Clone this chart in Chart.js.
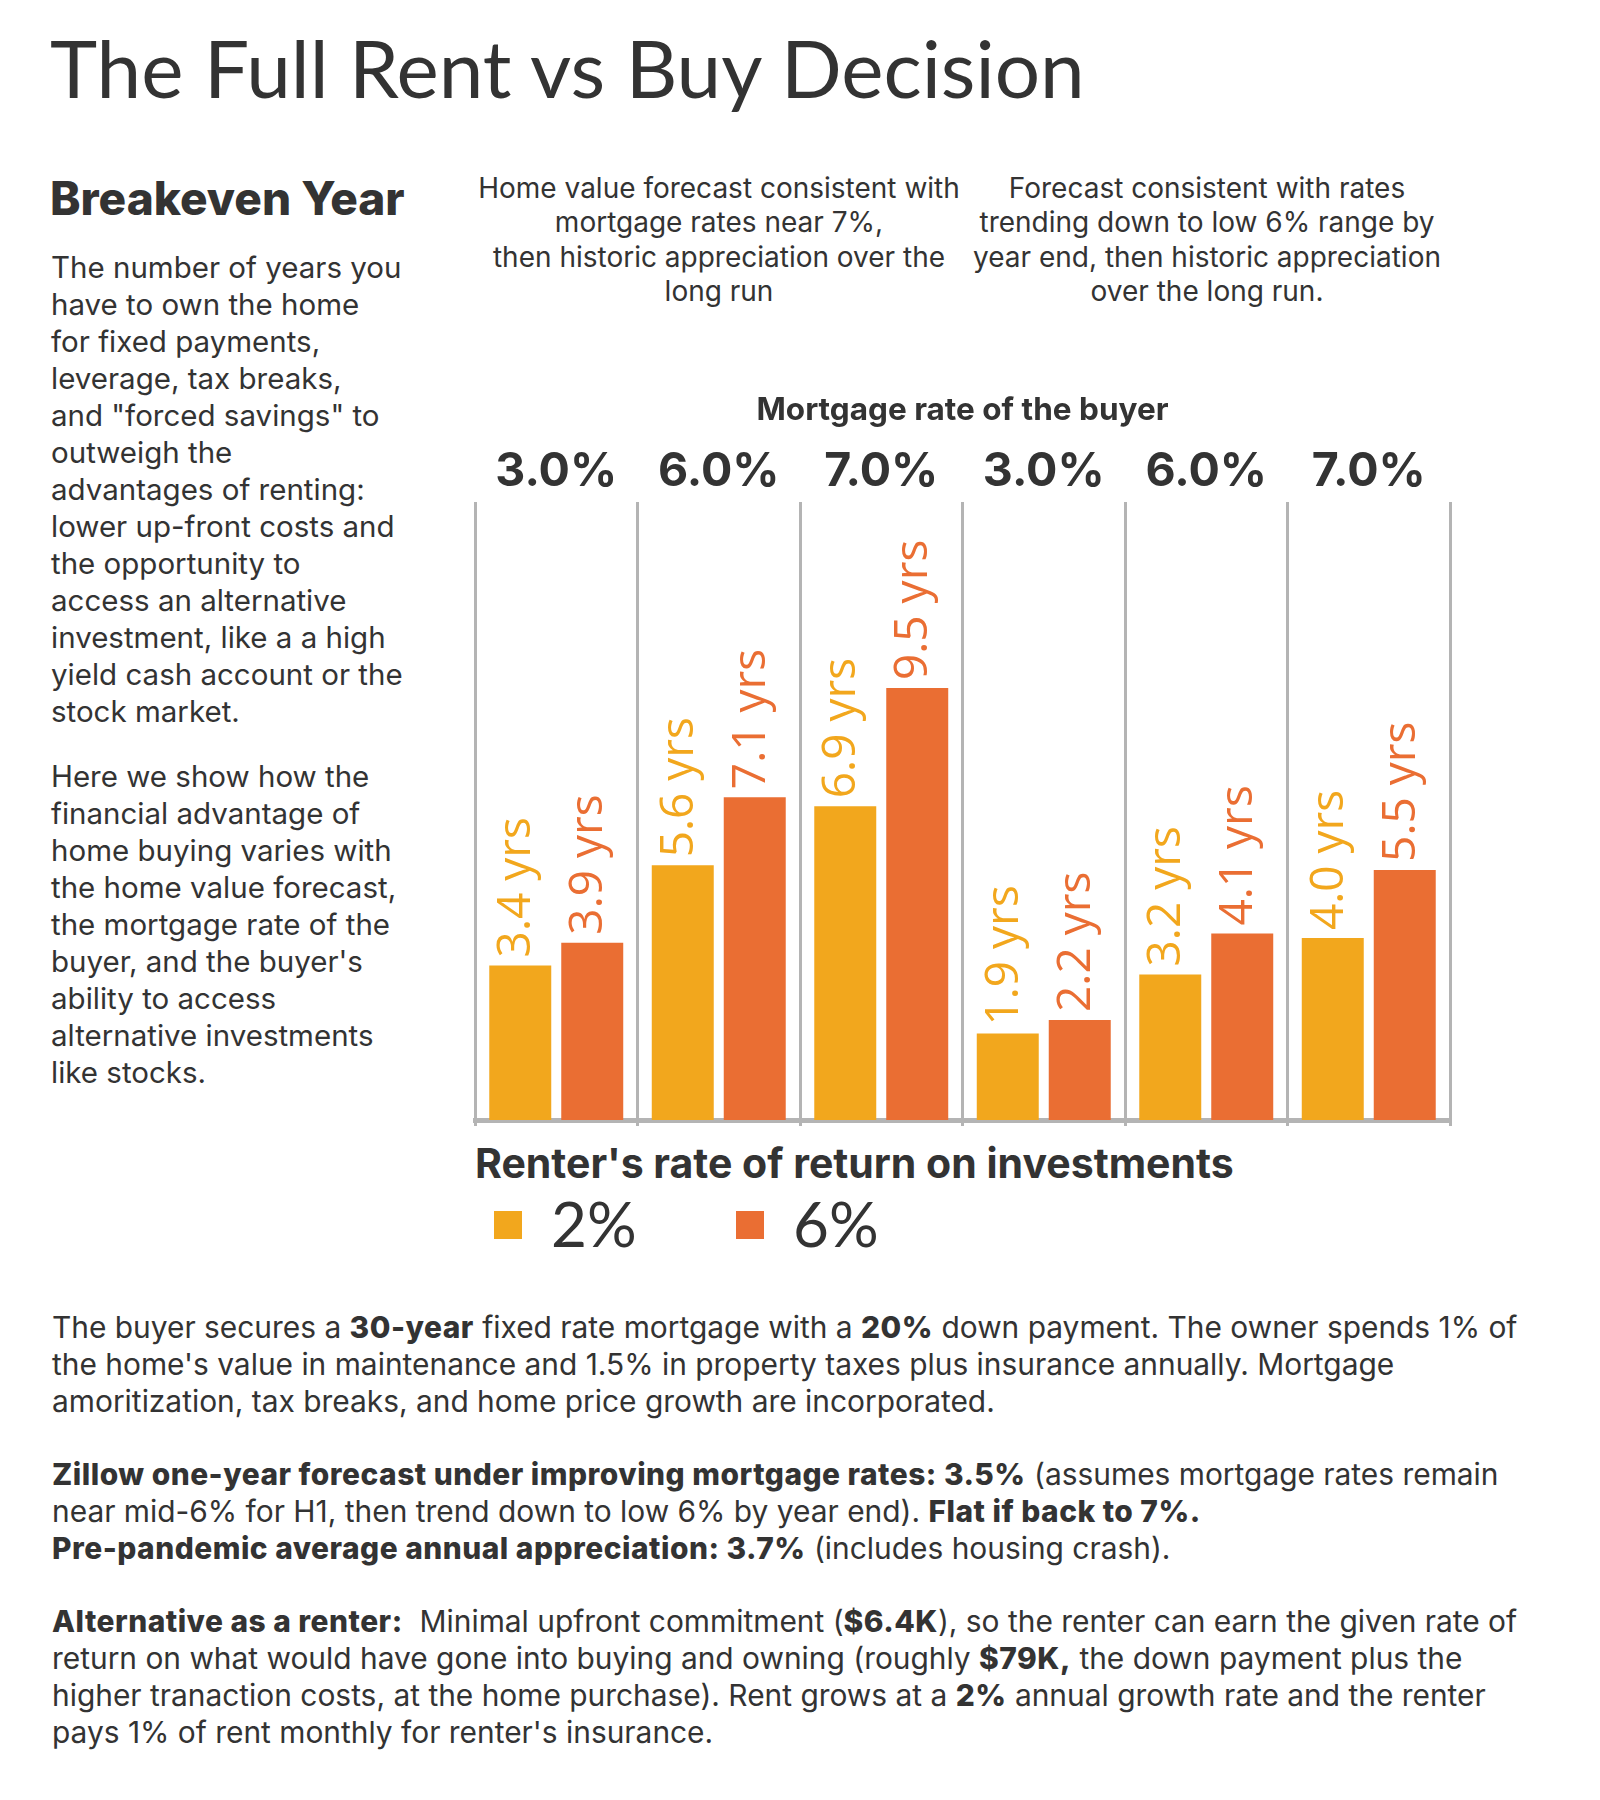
<!DOCTYPE html>
<html>
<head>
<meta charset="utf-8">
<script src="https://cdn.jsdelivr.net/npm/chart.js@4.4.0/dist/chart.umd.min.js"></script>
<style>
html,body{margin:0;padding:0;background:#fff;}
#page{position:relative;width:1600px;height:1800px;overflow:hidden;font-family:Inter,sans-serif;color:#333;}
.abs{position:absolute;white-space:nowrap;line-height:1;}
#title{left:50px;top:27px;font-size:80px;font-weight:400;font-family:Lato,sans-serif;}
#sub{left:50px;top:175px;font-size:46px;font-weight:800;}
#left{position:absolute;left:51px;top:249px;font-size:29.5px;line-height:37px;white-space:nowrap;}
#left p{margin:0 0 28px 0;}
.note{position:absolute;text-align:center;font-size:28px;line-height:34.3px;white-space:nowrap;width:560px;top:171px;}
#n1{left:439px;}
#n2{left:927px;}
#chartBox{position:absolute;left:455px;top:380px;width:1015px;height:750px;}
#legTitle{left:475px;top:1143px;font-size:41px;font-weight:700;}
.legBox{position:absolute;width:28px;height:28px;top:1211px;}
.legText{position:absolute;top:1192px;font-size:62px;line-height:1;white-space:nowrap;font-family:Lato,sans-serif;}
#bottom{position:absolute;left:52px;top:1309px;font-size:29.9px;line-height:37px;white-space:nowrap;}
#bottom p{margin:0 0 36px 0;}
#bottom b{font-weight:800;letter-spacing:0.5px;}
</style>
</head>
<body>
<div id="page">
  <div id="title" class="abs">The Full Rent vs Buy Decision</div>
  <div id="sub" class="abs">Breakeven Year</div>
  <div id="left">
    <p>The number of years you<br>have to own the home<br>for fixed payments,<br>leverage, tax breaks,<br>and "forced savings" to<br>outweigh the<br>advantages of renting:<br>lower up-front costs and<br>the opportunity to<br>access an alternative<br>investment, like a a high<br>yield cash account or the<br>stock market.</p>
    <p>Here we show how the<br>financial advantage of<br>home buying varies with<br>the home value forecast,<br>the mortgage rate of the<br>buyer, and the buyer's<br>ability to access<br>alternative investments<br>like stocks.</p>
  </div>
  <div id="n1" class="note">Home value forecast consistent with<br>mortgage rates near 7%,<br>then historic appreciation over the<br>long run</div>
  <div id="n2" class="note">Forecast consistent with rates<br>trending down to low 6% range by<br>year end, then historic appreciation<br>over the long run.</div>
  <div id="chartBox"><canvas id="c" width="1015" height="750"></canvas></div>
  <div id="legTitle" class="abs">Renter's rate of return on investments</div>
  <div id="legend"></div>
  <div id="bottom">
    <p>The buyer secures a <b>30-year</b> fixed rate mortgage with a <b>20%</b> down payment. The owner spends 1% of<br>the home's value in maintenance and 1.5% in property taxes plus insurance annually. Mortgage<br>amoritization, tax breaks, and home price growth are incorporated.</p>
    <p><b>Zillow one-year forecast under improving mortgage rates: 3.5%</b> (assumes mortgage rates remain<br>near mid-6% for H1, then trend down to low 6% by year end). <b>Flat if back to 7%.</b><br><b>Pre-pandemic average annual appreciation: 3.7%</b> (includes housing crash).</p>
    <p><b>Alternative as a renter:</b>&nbsp; Minimal upfront commitment (<b>$6.4K</b>), so the renter can earn the given rate of<br>return on what would have gone into buying and owning (roughly <b>$79K,</b> the down payment plus the<br>higher tranaction costs, at the home purchase). Rent grows at a <b>2%</b> annual growth rate and the renter<br>pays 1% of rent monthly for renter's insurance.</p>
  </div>
</div>
<script>
// ---- data ----
const mortgageRates = ['3.0%', '6.0%', '7.0%', '3.0%', '6.0%', '7.0%'];
const seriesNames = ['2%', '6%'];
const breakevenReturn2 = [3.4, 5.6, 6.9, 1.9, 3.2, 4.0];
const breakevenReturn6 = [3.9, 7.1, 9.5, 2.2, 4.1, 5.5];
const seriesColors = ['#F2A71D', '#EA6E33'];
const yMax = 13.6;

// ---- value labels (rotated) ----
const valueLabels = {
  id: 'valueLabels',
  afterDatasetsDraw(chart) {
    const ctx = chart.ctx;
    chart.data.datasets.forEach((ds, i) => {
      const meta = chart.getDatasetMeta(i);
      meta.data.forEach((bar, j) => {
        const v = ds.data[j];
        ctx.save();
        ctx.translate(bar.x - 3, bar.y - 8);
        ctx.rotate(-Math.PI / 2);
        ctx.font = '46px "Open Sans"';
        ctx.fillStyle = ds.backgroundColor;
        ctx.textAlign = 'left';
        ctx.textBaseline = 'middle';
        ctx.fillText(v.toFixed(1) + ' yrs', 0, 0);
        ctx.restore();
      });
    });
  }
};

const gridColor = '#b4b4b4';
const chart = new Chart(document.getElementById('c'), {
  type: 'bar',
  data: {
    labels: mortgageRates,
    datasets: [
      { label: seriesNames[0], data: breakevenReturn2, backgroundColor: seriesColors[0],
        categoryPercentage: 0.886, barPercentage: 0.861 },
      { label: seriesNames[1], data: breakevenReturn6, backgroundColor: seriesColors[1],
        categoryPercentage: 0.886, barPercentage: 0.861 }
    ]
  },
  options: {
    responsive: false,
    animation: false,
    layout: { padding: { left: 20, right: 20, top: 12, bottom: 4 } },
    plugins: { legend: { display: false }, tooltip: { enabled: false } },
    scales: {
      x: {
        position: 'top',
        offset: true,
        grid: { offset: true, color: gridColor, lineWidth: 3, drawTicks: false },
        border: { display: false },
        ticks: { color: '#333', padding: 2, maxRotation: 0, autoSkip: false,
                 font: { family: 'Inter', size: 46.5, weight: 'bold' } },
        title: { display: true, text: 'Mortgage rate of the buyer', color: '#333',
                 font: { family: 'Inter', size: 31.5, weight: 'bold' },
                 padding: { top: 0, bottom: 12 } }
      },
      x2: {
        type: 'category',
        labels: mortgageRates,
        position: 'bottom',
        offset: true,
        grid: { offset: true, drawOnChartArea: false, drawTicks: true, tickLength: 6,
                color: gridColor, lineWidth: 3 },
        border: { display: true, color: gridColor, width: 5 },
        ticks: { display: false }
      },
      y: { display: false, min: 0, max: yMax }
    }
  },
  plugins: [valueLabels]
});

// ---- legend built from the chart's datasets ----
const legend = document.getElementById('legend');
const boxLefts = [494, 736];
chart.data.datasets.forEach((ds, i) => {
  const box = document.createElement('div');
  box.className = 'legBox';
  box.style.left = boxLefts[i] + 'px';
  box.style.background = ds.backgroundColor;
  legend.appendChild(box);
  const t = document.createElement('div');
  t.className = 'legText';
  t.style.left = (boxLefts[i] + 57) + 'px';
  t.textContent = ds.label;
  legend.appendChild(t);
});
</script>
</body>
</html>
